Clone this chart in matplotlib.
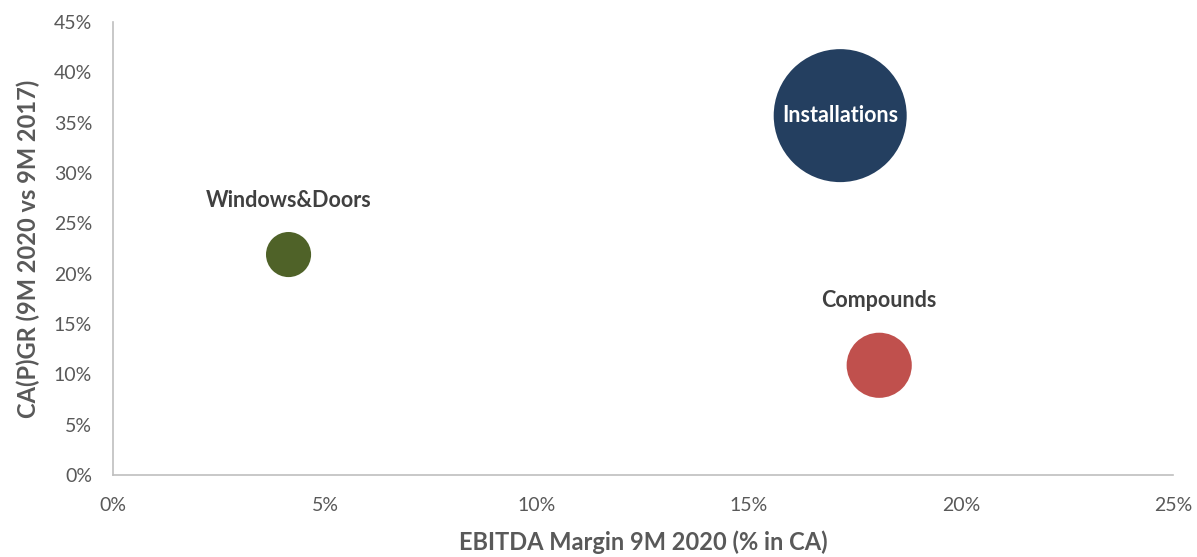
import numpy as np
import matplotlib.pyplot as plt
from matplotlib.ticker import FuncFormatter

plt.rcParams['font.family'] = ['Lato', 'DejaVu Sans']

# segment data: EBITDA margin (%), growth (%), relative bubble size
segments = ['Installations', 'Windows&Doors', 'Compounds']
ebitda_margin = [17.15, 4.14, 18.07]
growth = [35.7, 21.9, 10.9]
bubble_size = [100, 11.5, 24]
colors = ['#243F60', '#4F6228', '#C0504D']

fig = plt.figure(figsize=(11.97, 5.57), dpi=100)
ax = fig.add_axes([0.0944, 0.1472, 0.8856, 0.8133])

sizes = np.array(bubble_size) * 91.7
ax.scatter(ebitda_margin, growth, s=sizes, c=colors, edgecolors='none', zorder=3)

# labels: inside for the big bubble, above for the small ones
for name, x, y, size in zip(segments, ebitda_margin, growth, bubble_size):
    if name == 'Installations':
        ax.text(x, y, name, ha='center', va='center', color='white',
                fontsize=15.5, fontweight='bold', zorder=4)
    else:
        r_pt = np.sqrt(size * 91.7) / 2
        ax.annotate(name, (x, y), xytext=(0, r_pt + 23), textcoords='offset points',
                    ha='center', va='center', color='#404040',
                    fontsize=15.5, fontweight='bold')

ax.set_xlim(0, 25)
ax.set_ylim(0, 45)
ax.set_xticks(np.arange(0, 26, 5))
ax.set_yticks(np.arange(0, 46, 5))
pct = FuncFormatter(lambda v, _: f'{v:.0f}%')
ax.xaxis.set_major_formatter(pct)
ax.yaxis.set_major_formatter(pct)
ax.tick_params(axis='both', length=0, labelsize=14, labelcolor='#595959')
ax.tick_params(axis='x', pad=16)
ax.tick_params(axis='y', pad=15)

for side in ['top', 'right']:
    ax.spines[side].set_visible(False)
for side in ['left', 'bottom']:
    ax.spines[side].set_color('#BFBFBF')
    ax.spines[side].set_linewidth(1.2)

ax.set_xlabel('EBITDA Margin 9M 2020 (% in CA)', fontsize=17, fontweight='bold',
              color='#595959', labelpad=12)
ax.set_ylabel('CA(P)GR (9M 2020 vs 9M 2017)', fontsize=17, fontweight='bold',
              color='#595959', labelpad=10)

fig.savefig('out.png', dpi=100)
